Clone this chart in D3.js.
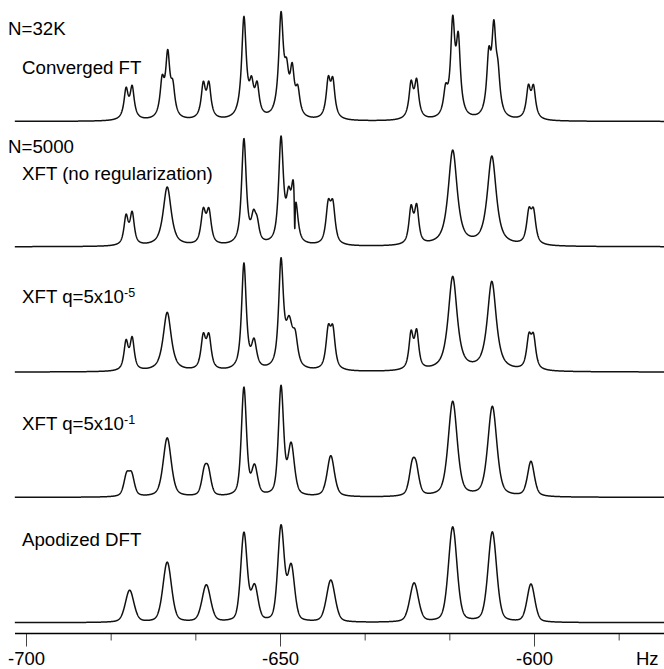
<!DOCTYPE html>
<html>
<head>
<meta charset="utf-8">
<script src="https://cdn.jsdelivr.net/npm/d3@7"></script>
<style>
body { margin: 0; background: #fff; }
svg { display: block; font-family: "Liberation Sans", Arial, Helvetica, sans-serif; }
</style>
</head>
<body>
<div id="chart"></div>
<script>
// peak tables: [centre (Hz), height, half width (Hz)]
var peaksConverged = [
    [-680.3, 29, 0.5], [-679.1, 31, 0.5],
    [-673.2, 34, 0.5], [-672.1, 60, 0.5], [-671.1, 27, 0.5],
    [-665.1, 33, 0.5], [-664.0, 33, 0.5],
    [-657.1, 100, 0.55], [-655.6, 27, 0.5], [-654.5, 29, 0.5],
    [-649.8, 100, 0.55], [-648.7, 34, 0.5], [-647.6, 42, 0.5], [-646.5, 24, 0.5],
    [-640.5, 36, 0.5], [-639.6, 35, 0.5],
    [-624.2, 34, 0.5], [-623.1, 36, 0.5],
    [-617.4, 24, 0.5], [-616.0, 90, 0.5], [-614.9, 72, 0.5],
    [-608.9, 55, 0.5], [-607.9, 80, 0.5], [-607.1, 34, 0.5],
    [-601.1, 30, 0.5], [-600.1, 30, 0.5]
];
var peaksXftNoReg = [
    [-680.3, 28, 0.5], [-679.1, 31, 0.5],
    [-672.2, 59, 0.95],
    [-665.1, 32, 0.55], [-664.0, 32, 0.55],
    [-657.1, 105, 0.55], [-655.2, 24, 0.55], [-654.5, 16, 0.5],
    [-649.8, 104, 0.55], [-648.3, 40, 0.55], [-647.4, 45, 0.45], [-646.8, 24, 0.5], [-647.1, -42, 0.1],
    [-640.5, 37, 0.55], [-639.6, 37, 0.55],
    [-624.2, 35, 0.5], [-623.1, 36, 0.5],
    [-616.0, 95, 1.05],
    [-608.3, 89, 1.05],
    [-601.0, 30, 0.55], [-600.1, 30, 0.55]
];
var peaksXftQ5 = [
    [-680.3, 28, 0.5], [-679.1, 31, 0.5],
    [-672.2, 59, 0.95],
    [-665.1, 32, 0.55], [-664.0, 32, 0.55],
    [-657.1, 106, 0.55], [-655.1, 26, 0.6],
    [-649.8, 105, 0.55], [-648.2, 42, 0.8], [-647.0, 26, 0.6],
    [-640.5, 37, 0.55], [-639.6, 37, 0.55],
    [-624.2, 35, 0.5], [-623.1, 36, 0.5],
    [-616.0, 94, 1.05],
    [-608.3, 89, 1.05],
    [-601.0, 30, 0.55], [-600.1, 30, 0.55]
];
var peaksXftQ1 = [
    [-680.2, 20, 0.65], [-679.2, 20, 0.65],
    [-672.2, 59, 0.95],
    [-664.9, 22, 0.65], [-664.1, 22, 0.65],
    [-657.1, 108, 0.6], [-655.0, 28, 0.7],
    [-649.8, 108, 0.6], [-647.8, 50, 0.75],
    [-640.0, 41, 0.85],
    [-624.0, 26, 0.7], [-623.2, 24, 0.7],
    [-616.0, 95, 1.05],
    [-608.2, 90, 1.05],
    [-600.6, 35, 0.8]
];
var peaksApodized = [
    [-679.6, 32, 1.0],
    [-672.2, 60, 1.0],
    [-664.5, 37, 1.0],
    [-657.1, 88, 0.75], [-655.0, 34, 0.8],
    [-649.8, 94, 0.75], [-647.8, 54, 0.8],
    [-640.0, 42, 1.0],
    [-623.6, 39, 1.0],
    [-616.0, 95, 1.0],
    [-608.2, 90, 1.0],
    [-600.6, 38, 0.9]
];
var spectra = [peaksConverged, peaksXftNoReg, peaksXftQ5, peaksXftQ1, peaksApodized];
// share of Lorentzian in each line shape (rest Gaussian)
var lorentzShare = [1, 0.8, 0.8, 0.5, 0.35];

var traceNames = ["Converged FT", "XFT (no regularization)", "XFT q=5x10", "XFT q=5x10", "Apodized DFT"];
var traceExps = ["", "", "-5", "-1", ""];
var groupNames = ["N=32K", "N=5000"];

var hzStart = -702.2, hzEnd = -574.3;
var tickValues = d3.range(0, 8).map(function(i) { return -700 + i * 50 / 3; });
var tickLabels = ["-700", "", "", "-650", "", "", "-600", ""];
var unitLabel = "Hz";

// layout
var width = 664, height = 669;
var firstBase = 121.5, rowStep = 125.3, axisY = 633.5;
var captionY = [74, 180, 303, 430, 546];
var groupY = [35, 153];

var xScale = d3.scaleLinear().domain([-700, -600]).range([26, 534]);
var yScale = d3.scaleLinear().domain([0, 100]).range([0, -100]);

var svg = d3.select("#chart").append("svg")
    .attr("width", width)
    .attr("height", height);

// sum of pseudo-Voigt lines
function shapeAt(hz, peaks, eta) {
    var s = 0;
    peaks.forEach(function(p) {
        var u = (hz - p[0]) / p[2];
        s += p[1] * (eta / (1 + u * u) + (1 - eta) * Math.exp(-Math.LN2 * u * u));
    });
    return s;
}

var grid = d3.range(hzStart, hzEnd, 0.04);
var line = d3.line()
    .x(function(d) { return xScale(d[0]); })
    .y(function(d) { return yScale(d[1]); });

spectra.forEach(function(peaks, i) {
    var pts = grid.map(function(hz) { return [hz, shapeAt(hz, peaks, lorentzShare[i])]; });
    svg.append("g")
        .attr("transform", "translate(0," + (firstBase + i * rowStep) + ")")
      .append("path")
        .attr("d", line(pts))
        .attr("fill", "none")
        .attr("stroke", "#111")
        .attr("stroke-width", 1.5)
        .attr("stroke-linejoin", "round");
});

// trace captions
traceNames.forEach(function(name, i) {
    var t = svg.append("text")
        .attr("x", 22)
        .attr("y", captionY[i])
        .attr("font-size", 18.7)
        .attr("fill", "#000")
        .text(name);
    if (traceExps[i]) {
        t.append("tspan")
            .attr("dy", -6.5)
            .attr("font-size", 12.5)
            .text(traceExps[i]);
    }
});
groupNames.forEach(function(name, i) {
    svg.append("text")
        .attr("x", 8)
        .attr("y", groupY[i])
        .attr("font-size", 18.7)
        .attr("fill", "#000")
        .text(name);
});

// frequency axis
var xAxis = d3.axisBottom(xScale)
    .tickValues(tickValues)
    .tickSize(7)
    .tickSizeOuter(0)
    .tickFormat(function(d, i) { return tickLabels[i]; });

var ax = svg.append("g")
    .attr("transform", "translate(0," + axisY + ")")
    .call(xAxis);
ax.select(".domain").remove();
ax.selectAll(".tick line")
    .attr("stroke", "#444")
    .attr("y2", function(d, i) { return tickLabels[i] ? 13 : 7; });
ax.selectAll(".tick text")
    .attr("y", 31.5)
    .attr("dy", 0)
    .attr("font-size", 18.5)
    .attr("font-family", "Liberation Sans, Arial, sans-serif")
    .attr("fill", "#000");
ax.append("line")
    .attr("x1", 15).attr("x2", width)
    .attr("stroke", "#000")
    .attr("stroke-width", 1.5);

svg.append("text")
    .attr("x", 636)
    .attr("y", axisY + 31.5)
    .attr("font-size", 18.5)
    .attr("fill", "#000")
    .text(unitLabel);
</script>
</body>
</html>
